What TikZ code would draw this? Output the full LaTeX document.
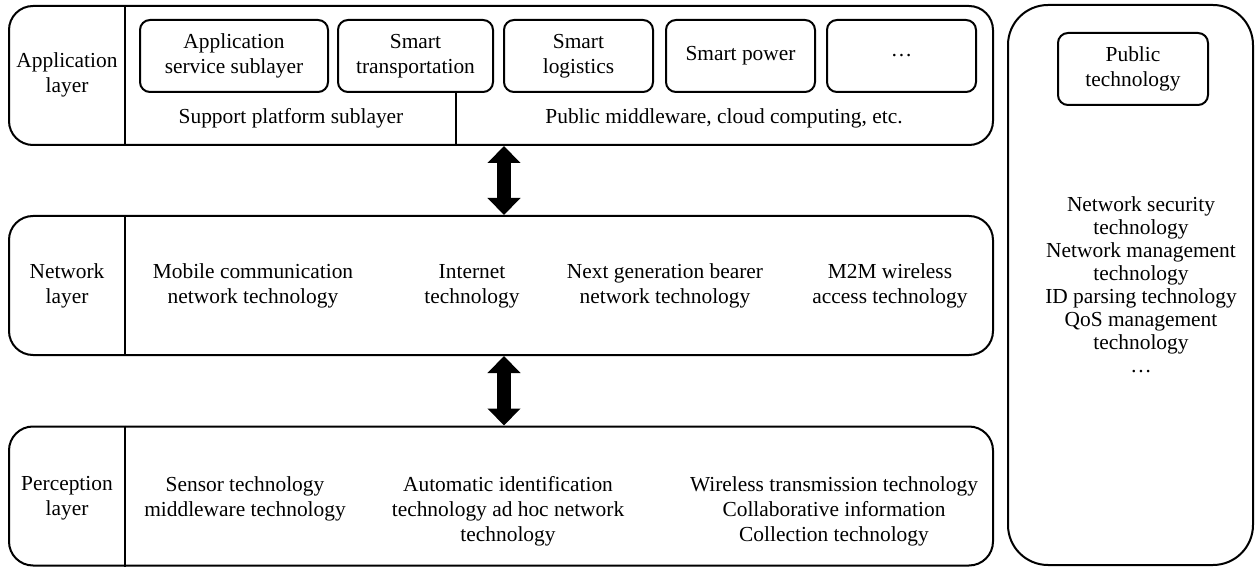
\documentclass[tikz,border=0pt]{standalone}
\usepackage{fontspec}
\setmainfont{Liberation Serif}
\usetikzlibrary{arrows.meta}

\begin{document}
\begin{tikzpicture}[x=0.5pt, y=-0.5pt,
  every node/.style={font=\fontsize{10.7}{12.5}\selectfont},
  layer/.style={draw, line width=1pt, rounded corners=12pt,
                minimum width=492pt, minimum height=69.5pt},
  tag/.style={align=center},
  item/.style={align=center},
  sub/.style={draw, line width=1pt, rounded corners=5pt, align=center,
              minimum height=36pt, inner sep=2pt},
  link/.style={{Triangle[width=16pt,length=8.5pt]}-{Triangle[width=16pt,length=8.5pt]},
               line width=7pt}]
\useasboundingbox (0,0) rectangle (1255,567);
% three stacked layers
\node[layer] (app) at (501,75.5) {};
\node[layer] (net) at (501,285.5) {};
\node[layer] (per) at (501,496) {};
\foreach \l in {app,net,per}
  \draw[line width=1pt] ([xshift=58.5pt]\l.north west) -- ([xshift=58.5pt]\l.south west);
\node[tag] (appl) at (67,75) {Application\\layer};
\node[tag] (netl) at (67,286) {Network\\layer};
\node[tag] (perl) at (67,498) {Perception\\layer};
% application layer
\node[sub, minimum width=94pt] (svc) at (234,56) {Application\\service sublayer};
\node[sub, minimum width=77.5pt] (trans) at (415.5,56) {Smart\\transportation};
\node[sub, minimum width=74.5pt] (logi) at (578.5,56) {Smart\\logistics};
\node[sub, minimum width=74.5pt] (power) at (740.5,56) {Smart power};
\node[sub, minimum width=74.5pt] (more) at (901.5,56) {\dots};
\coordinate (split) at (456,0);
\draw[line width=1pt] (trans.south -| split) -- (app.south -| split);
\node (supp) at (291,118) {Support platform sublayer};
\node (mware) at (724,118) {Public middleware, cloud computing, etc.};
% network layer
\node[item] (mob) at (253,286) {Mobile communication\\network technology};
\node[item] (inet) at (472,286) {Internet\\technology};
\node[item] (ngb) at (665,286) {Next generation bearer\\network technology};
\node[item] (m2m) at (890,286) {M2M wireless\\access technology};
% perception layer
\node[item] (sens) at (245,499) {Sensor technology\\middleware technology};
\node[item] (auto) at (508,511) {Automatic identification\\technology ad hoc network\\technology};
\node[item] (wire) at (834,511) {Wireless transmission technology\\Collaborative information\\Collection technology};
% public technology column
\node[draw, line width=1pt, rounded corners=20pt, minimum width=122.5pt,
      minimum height=280pt] (pub) at (1130.5,285) {};
\node[sub, minimum width=75pt] (pubt) at (1133,69) {Public\\technology};
\node[align=center, font=\fontsize{10.7}{11.5}\selectfont] (publist) at (1141,285)
  {Network security\\technology\\Network management\\technology\\ID parsing technology\\QoS management\\technology\\\dots};
% links between layers
\coordinate (axis) at (504,0);
\draw[link] (app.south -| axis) -- (net.north -| axis);
\draw[link] (net.south -| axis) -- (per.north -| axis);
\end{tikzpicture}
\end{document}
